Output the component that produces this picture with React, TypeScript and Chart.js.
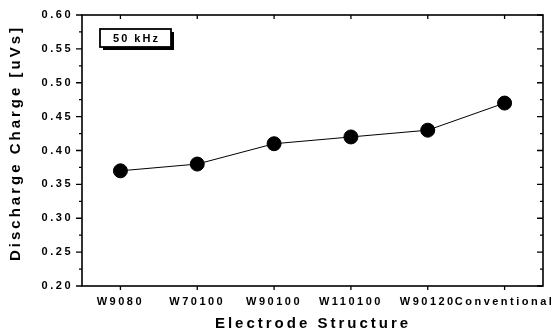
import React, { useEffect, useRef } from "react";
import { Chart, registerables } from "chart.js";

Chart.register(...registerables);

const categories = ["W9080", "W70100", "W90100", "W110100", "W90120", "Conventional"];
const dischargeCharge = [0.37, 0.38, 0.41, 0.42, 0.43, 0.47];
const yMin = 0.2;
const yMax = 0.6;
const yStep = 0.05;
const legendLabel = "50 kHz";
const xTitle = "Electrode Structure";
const yTitle = "Discharge Charge [uVs]";

const FONT = "'Liberation Sans', Arial, sans-serif";

const framePlugin = {
  id: "frame",
  beforeLayout(chart: any) {
    chart.ctx.letterSpacing = "2.5px";
  },
  beforeDraw(chart: any) {
    const ctx = chart.ctx;
    ctx.save();
    ctx.fillStyle = "#ffffff";
    ctx.fillRect(0, 0, chart.width, chart.height);
    ctx.restore();
    ctx.letterSpacing = "2.5px";
  },
  afterDraw(chart: any) {
    const ctx = chart.ctx;
    const { left, right, top, bottom } = chart.chartArea;
    const ys = chart.scales.y;
    const xs = chart.scales.x;
    ctx.save();
    ctx.strokeStyle = "#000";
    ctx.lineWidth = 1.6;
    ctx.strokeRect(left, top, right - left, bottom - top);
    ctx.lineWidth = 1.3;
    ctx.beginPath();
    for (let v = yMin; v <= yMax + 1e-9; v += yStep / 2) {
      const isMajor = Math.abs(Math.round(v / yStep) * yStep - v) < 1e-6;
      const y = ys.getPixelForValue(v);
      const len = isMajor ? 6 : 3;
      ctx.moveTo(left - len, y);
      ctx.lineTo(left, y);
      ctx.moveTo(right, y);
      ctx.lineTo(right - len, y);
    }
    for (let i = 0; i < categories.length; i++) {
      const x = xs.getPixelForValue(i);
      ctx.moveTo(x, bottom);
      ctx.lineTo(x, bottom + 4);
      ctx.moveTo(x, top);
      ctx.lineTo(x, top + 4);
    }
    ctx.stroke();

    // legend box
    const bx = 100, by = 29, bw = 71, bh = 18;
    ctx.fillStyle = "#000";
    ctx.fillRect(bx + 3, by + 3, bw, bh);
    ctx.fillStyle = "#fff";
    ctx.fillRect(bx, by, bw, bh);
    ctx.lineWidth = 1.8;
    ctx.strokeRect(bx, by, bw, bh);
    ctx.fillStyle = "#000";
    ctx.font = `bold 11px ${FONT}`;
    ctx.letterSpacing = "2px";
    ctx.textAlign = "center";
    ctx.textBaseline = "middle";
    ctx.fillText(legendLabel, bx + bw / 2 + 1, by + bh / 2 + 1);

    // titles
    ctx.font = `bold 15px ${FONT}`;
    ctx.letterSpacing = "3px";
    ctx.fillText(xTitle, 313, 324);
    ctx.save();
    ctx.translate(16, 143);
    ctx.rotate(-Math.PI / 2);
    ctx.fillText(yTitle, 0, 0);
    ctx.restore();
    ctx.restore();
  },
};

export default function App() {
  const ref = useRef<HTMLCanvasElement | null>(null);
  useEffect(() => {
    if (!ref.current) return;
    const chart = new Chart(ref.current, {
      type: "line",
      data: {
        labels: categories,
        datasets: [
          {
            data: dischargeCharge,
            borderColor: "#000",
            borderWidth: 1,
            backgroundColor: "#000",
            pointBackgroundColor: "#000",
            pointBorderColor: "#000",
            pointRadius: 7,
            pointHoverRadius: 7,
            tension: 0,
          },
        ],
      },
      options: {
        responsive: false,
        animation: false,
        events: [],
        layout: { padding: { left: 0, right: 9, top: 15, bottom: 0 } },
        plugins: { legend: { display: false }, tooltip: { enabled: false } },
        scales: {
          x: {
            type: "category",
            offset: true,
            grid: { display: false, drawTicks: false },
            border: { display: false },
            ticks: {
              color: "#000",
              font: { family: FONT, size: 11, weight: "bold" },
              padding: 9,
              maxRotation: 0,
              autoSkip: false,
            },
            afterFit(scale: any) {
              scale.height = 48;
              scale.paddingLeft = 0;
              scale.paddingRight = 0;
            },
          },
          y: {
            min: yMin,
            max: yMax,
            grid: { display: false, drawTicks: false },
            border: { display: false },
            ticks: {
              stepSize: yStep,
              color: "#000",
              font: { family: FONT, size: 11, weight: "bold" },
              padding: 9,
              callback: (v: any) => Number(v).toFixed(2),
            },
            afterFit(scale: any) {
              scale.width = 82;
              scale.paddingTop = 0;
              scale.paddingBottom = 0;
            },
          },
        },
      },
      plugins: [framePlugin],
    });
    return () => chart.destroy();
  }, []);
  return (
    <div style={{ position: "absolute", left: 0, top: 0, width: 552, height: 334, background: "#fff" }}>
      <canvas ref={ref} width={552} height={334} style={{ display: "block" }} />
    </div>
  );
}
